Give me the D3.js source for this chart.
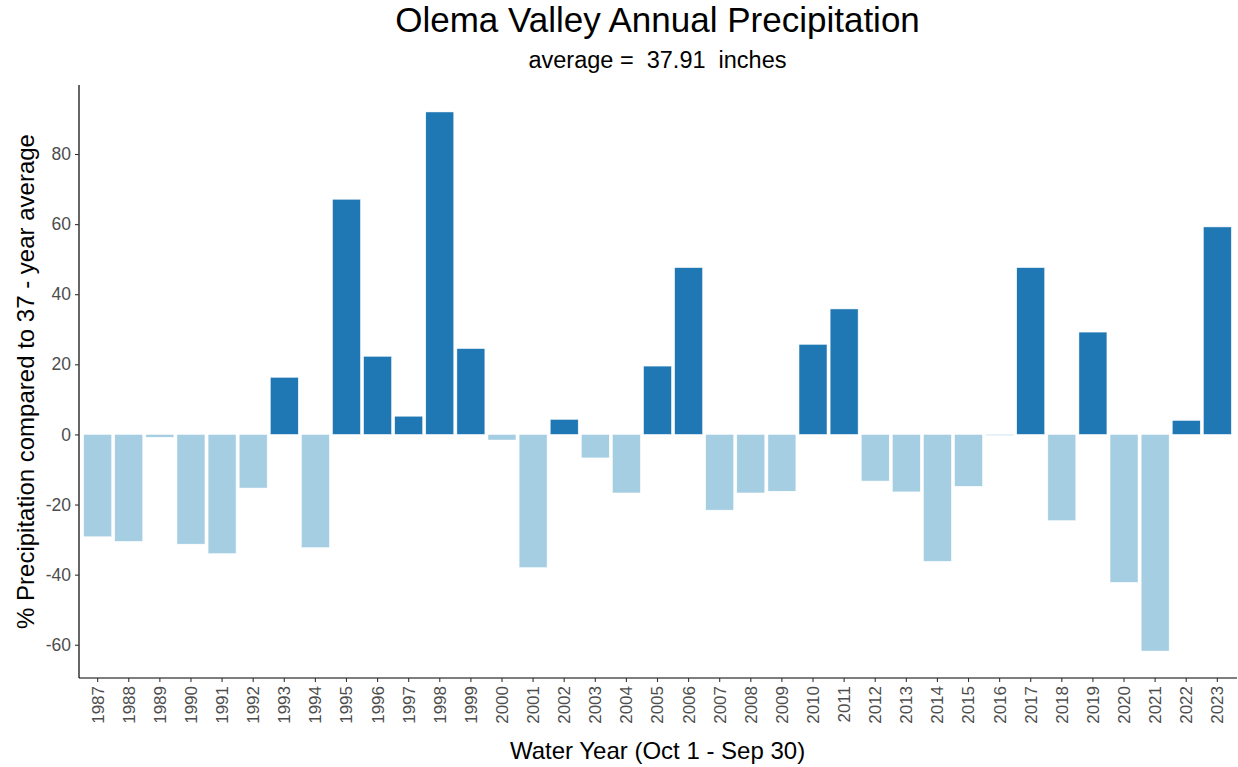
<!DOCTYPE html>
<html>
<head>
<meta charset="utf-8">
<script src="https://cdn.jsdelivr.net/npm/d3@7"></script>
<style>
  body { margin: 0; background: #fff; }
  svg { display: block; font-family: "Liberation Sans", Arial, sans-serif; }
  text { white-space: pre; }
</style>
</head>
<body>
<svg id="chart" width="1238" height="767"></svg>
<script>
const years = [1987,1988,1989,1990,1991,1992,1993,1994,1995,1996,1997,1998,1999,2000,2001,2002,2003,2004,2005,2006,2007,2008,2009,2010,2011,2012,2013,2014,2015,2016,2017,2018,2019,2020,2021,2022,2023];
const pctDiff = [-29.2,-30.5,-0.8,-31.3,-34.0,-15.3,16.3,-32.3,67.1,22.3,5.2,92.0,24.5,-1.6,-38.0,4.3,-6.7,-16.7,19.5,47.6,-21.6,-16.7,-16.2,25.7,35.8,-13.3,-16.4,-36.2,-14.8,-0.3,47.6,-24.6,29.2,-42.2,-61.8,4.0,59.2];
const yTicks = [-60,-40,-20,0,20,40,60,80];
const titleText = "Olema Valley Annual Precipitation";
const subtitleText = "average =  37.91  inches";
const xTitle = "Water Year (Oct 1 - Sep 30)";
const yTitle = "% Precipitation compared to 37 - year average";

const svg = d3.select("#chart");
const m = {left: 79, right: 1236, top: 85, bottom: 678};

const data = years.map((y, i) => ({year: String(y), v: pctDiff[i]}));

const x = d3.scaleBand()
  .domain(data.map(d => d.year))
  .range([m.left, m.right])
  .paddingInner(0.1)
  .paddingOuter(0.15);

const ext = d3.extent(pctDiff);
const pad = (ext[1] - ext[0]) * 0.05;
const y = d3.scaleLinear()
  .domain([ext[0] - pad, ext[1] + pad])
  .range([m.bottom, m.top]);

// bars
svg.append("g").selectAll("rect")
  .data(data)
  .enter().append("rect")
  .attr("x", d => x(d.year))
  .attr("width", x.bandwidth())
  .attr("y", d => y(Math.max(0, d.v)))
  .attr("height", d => Math.abs(y(d.v) - y(0)))
  .attr("fill", d => d.v >= 0 ? "#1f78b4" : "#a6cee3")
  .attr("stroke", "#ffffff")
  .attr("stroke-width", 0.5);

// y axis
const yAxis = svg.append("g")
  .attr("transform", `translate(${m.left},0)`)
  .call(d3.axisLeft(y).tickValues(yTicks).tickSize(4).tickPadding(4).tickFormat(d => String(d)));
yAxis.select(".domain").attr("stroke", "#000").attr("stroke-width", 1.2).attr("d", `M0,${m.top}V${m.bottom}`);
yAxis.selectAll(".tick line").attr("stroke", "#333").attr("stroke-width", 1.1);
yAxis.selectAll(".tick text").attr("fill", "#4d4d4d").style("font-size", "17.5px").attr("font-family", "Liberation Sans, Arial, sans-serif");

// x axis
const xAxis = svg.append("g")
  .attr("transform", `translate(0,${m.bottom})`)
  .call(d3.axisBottom(x).tickSize(4).tickPadding(4));
xAxis.select(".domain").attr("stroke", "#000").attr("stroke-width", 1.2).attr("d", `M${m.left},0H${m.right + 1}`);
xAxis.selectAll(".tick line").attr("stroke", "#333").attr("stroke-width", 1.1);
xAxis.selectAll(".tick text")
  .attr("fill", "#4d4d4d")
  .style("font-size", "17px")
  .attr("font-family", "Liberation Sans, Arial, sans-serif")
  .attr("text-anchor", "end")
  .attr("transform", "rotate(-90)")
  .attr("x", -8)
  .attr("y", 0)
  .attr("dy", "0.35em");

const cx = (m.left + m.right) / 2;
svg.append("text")
  .attr("x", cx).attr("y", 32)
  .attr("text-anchor", "middle")
  .style("font-size", "35px")
  .attr("fill", "#000")
  .text(titleText);

svg.append("text")
  .attr("x", cx).attr("y", 68)
  .attr("text-anchor", "middle")
  .style("font-size", "23.5px")
  .attr("fill", "#000")
  .text(subtitleText);

svg.append("text")
  .attr("x", cx).attr("y", 759)
  .attr("text-anchor", "middle")
  .style("font-size", "24px")
  .attr("fill", "#000")
  .text(xTitle);

svg.append("text")
  .attr("transform", `translate(34,${(m.top + m.bottom) / 2}) rotate(-90)`)
  .attr("text-anchor", "middle")
  .style("font-size", "24px")
  .attr("fill", "#000")
  .text(yTitle);
</script>
</body>
</html>
